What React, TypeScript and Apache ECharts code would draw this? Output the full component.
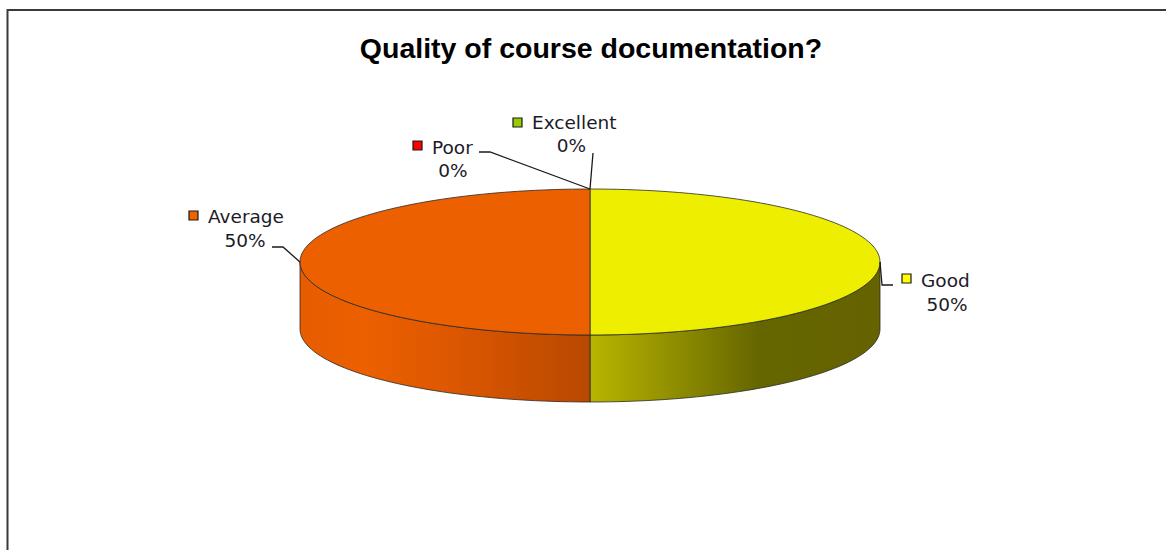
import React, { useEffect, useRef } from "react";
import * as echarts from "echarts";

// ---- data ----
const categories = ["Excellent", "Good", "Average", "Poor"];
const values = [0, 50, 50, 0];
const topColors = ["#99CC00", "#EEEE00", "#EC6000", "#FF0000"];
const legendColors = ["#99CC00", "#FFFF00", "#F06400", "#FF0000"];
const sideStops: Array<Array<[number, string]>> = [
  [[0, "#7a9900"], [1, "#4d6600"]],
  [[0, "#b8b500"], [0.58, "#666600"], [1, "#646300"]],
  [[0, "#e65c00"], [0.22, "#ec6000"], [0.5, "#de5800"], [1, "#b84800"]],
  [[0, "#cc0000"], [1, "#800000"]],
];
const titleText = "Quality of course documentation?";

// ---- layout (pixels) ----
const CX = 590;
const CY = 262;
const RX = 290;
const RY = 73;
const DEPTH = 67;
// label layout: marker top-left, name left/middle, percent center/middle, leader bend points
const labelLayout = [
  { mx: 513, my: 118, nx: 532, ny: 122.5, px: 571.5, py: 145.5, bend: [[593, 153]] },
  { mx: 902, my: 274, nx: 921, ny: 280, px: 947, py: 304, bend: [[882, 285], [893, 285]] },
  { mx: 189, my: 211, nx: 208, ny: 216, px: 245, py: 240, bend: [[283, 247], [272, 247]] },
  { mx: 413, my: 141, nx: 432, ny: 147.5, px: 453, py: 170, bend: [[490, 152], [479, 152]] },
];

const LABEL_FONT = "DejaVu Sans";

function pt(t: number, dy = 0): number[] {
  return [CX + RX * Math.sin(t), CY - RY * Math.cos(t) + dy];
}

function arcPoints(a0: number, a1: number, dy = 0): number[][] {
  const n = Math.max(2, Math.ceil(((a1 - a0) / (2 * Math.PI)) * 200));
  const pts: number[][] = [];
  for (let i = 0; i <= n; i++) pts.push(pt(a0 + ((a1 - a0) * i) / n, dy));
  return pts;
}

export default function App() {
  const ref = useRef<HTMLDivElement>(null);
  useEffect(() => {
    document.body.style.margin = "0";
    const chart = echarts.init(ref.current!, null, { renderer: "svg" });
    const total = values.reduce((a, b) => a + b, 0);
    const cum: number[] = [];
    values.reduce((acc, v, i) => {
      cum[i] = acc;
      return acc + v;
    }, 0);

    const renderItem = (params: any, api: any) => {
      const i = params.dataIndex;
      const v = api.value(0);
      const a0 = (cum[i] / total) * 2 * Math.PI;
      const a1 = ((cum[i] + v) / total) * 2 * Math.PI;
      const children: any[] = [];
      if (a1 > a0) {
        // side wall (front half only)
        const s = Math.max(a0, Math.PI / 2);
        const e = Math.min(a1, (3 * Math.PI) / 2);
        if (e > s) {
          const top = arcPoints(s, e, 0);
          const bottom = arcPoints(s, e, DEPTH).reverse();
          const xs = top.map((p) => p[0]);
          const xmin = Math.min(...xs);
          const xmax = Math.max(...xs);
          const stops = sideStops[i];
          children.push({
            type: "polygon",
            z2: 1,
            shape: { points: top.concat(bottom) },
            style: {
              fill: new echarts.graphic.LinearGradient(
                xmin, 0, xmax, 0,
                stops.map(([o, c]) => ({ offset: o, color: c })),
                true
              ),
              stroke: "#2a2a2a",
              lineWidth: 0.8,
            },
          });
        }
        // top face
        children.push({
          type: "polygon",
          z2: 5,
          shape: { points: [[CX, CY]].concat(arcPoints(a0, a1, 0)) },
          style: { fill: topColors[i], stroke: "#2a2a2a", lineWidth: 0.8 },
        });
      }
      // label
      const L = labelLayout[i];
      const mid = (a0 + a1) / 2;
      const start = pt(mid, 0);
      children.push({
        type: "polyline",
        z2: 8,
        shape: { points: [start].concat(L.bend as number[][]) },
        style: { stroke: "#1a1a1a", lineWidth: 1.3, fill: "none" },
      });
      children.push({
        type: "rect",
        z2: 9,
        shape: { x: L.mx, y: L.my, width: 9, height: 9 },
        style: { fill: legendColors[i], stroke: "#1a1a1a", lineWidth: 1.2 },
      });
      children.push({
        type: "text",
        z2: 9,
        x: L.nx,
        y: L.ny,
        style: {
          text: categories[i],
          fill: "#1b1b28",
          fontSize: 18.5,
          fontFamily: LABEL_FONT,
          align: "left",
          verticalAlign: "middle",
        },
      });
      children.push({
        type: "text",
        z2: 9,
        x: L.px,
        y: L.py,
        style: {
          text: Math.round((v / total) * 100) + "%",
          fill: "#1b1b28",
          fontSize: 18.5,
          fontFamily: LABEL_FONT,
          align: "center",
          verticalAlign: "middle",
        },
      });
      return { type: "group", children };
    };

    chart.setOption({
      animation: false,
      backgroundColor: "#ffffff",
      graphic: [
        {
          type: "rect",
          shape: { x: 7.5, y: 10, width: 1400, height: 800 },
          style: { fill: "none", stroke: "#3a3a3a", lineWidth: 2 },
          z: 0,
        },
        {
          type: "text",
          x: 591,
          y: 48,
          style: {
            text: titleText,
            fill: "#000",
            fontSize: 28.5,
            fontWeight: "bold",
            fontFamily: "Liberation Sans",
            align: "center",
            verticalAlign: "middle",
          },
          z: 10,
        },
      ],
      series: [
        {
          type: "custom",
          coordinateSystem: "none",
          renderItem,
          data: values.map((v, i) => ({ name: categories[i], value: [v] })),
        },
      ],
    });
    return () => chart.dispose();
  }, []);
  return <div ref={ref} style={{ width: 1166, height: 550 }} />;
}
